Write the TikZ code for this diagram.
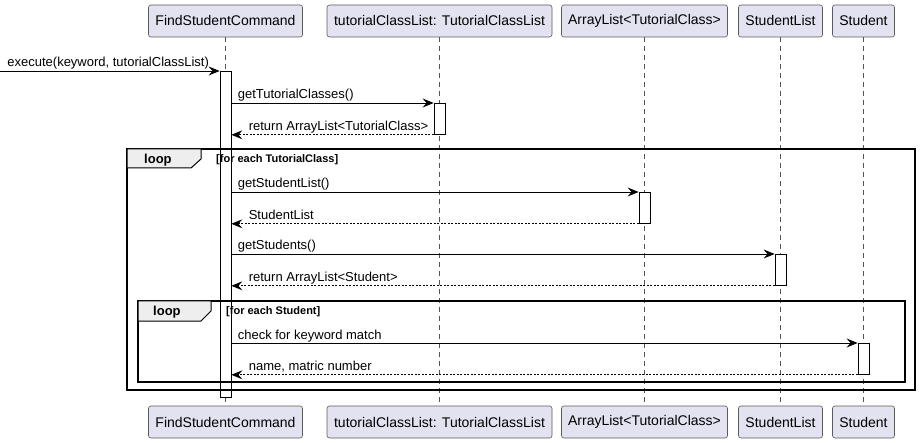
\documentclass[tikz,border=0pt]{standalone}
\usepackage{fontspec}
\setmainfont{Liberation Sans}
\usetikzlibrary{arrows.meta}
\definecolor{partfill}{HTML}{E2E2F0}
\definecolor{partdraw}{HTML}{5A5A5A}
\definecolor{tabfill}{HTML}{EEEEEE}
\definecolor{lifecol}{HTML}{555555}
\begin{document}
\begin{tikzpicture}[x=1pt,y=-1pt,
  part/.style={draw=partdraw, line width=0.6pt, fill=partfill, rounded corners=2.5pt,
    minimum height=32pt, inner xsep=0pt, inner ysep=0pt, font=\fontsize{14}{16}\selectfont},
  actbox/.style={draw=black, line width=0.8pt, fill=white, minimum width=11pt, inner sep=0pt, anchor=north},
  lifeline/.style={draw=lifecol, line width=0.5pt, dash pattern=on 5pt off 4pt},
  call/.style={draw=black, line width=0.8pt, -{Stealth[length=11pt, width=9pt, inset=4pt]}},
  ret/.style={draw=black, line width=0.8pt, dash pattern=on 2pt off 1.5pt, -{Stealth[length=11pt, width=9pt, inset=4pt]}},
  msg/.style={font=\fontsize{13}{15}\selectfont, inner sep=0pt, anchor=base west},
  frame/.style={draw=black, line width=1.5pt},
  tab/.style={draw=black, line width=1pt, fill=tabfill},
  guard/.style={font=\fontsize{11}{13}\selectfont\bfseries, inner sep=0pt, anchor=base west},
  looplbl/.style={font=\fontsize{13}{15}\selectfont\bfseries, inner sep=0pt, anchor=base west}
]
\useasboundingbox (0,0) rectangle (920,443);

% participants top
\node[part, minimum width=154pt] (p1t) at (225.5,21) {FindStudentCommand};
\node[part, minimum width=225pt] (p2t) at (439.5,21) {tutorialClassList: TutorialClassList};
\node[part, minimum width=166pt] (p3t) at (644.5,21) {ArrayList<TutorialClass>};
\node[part, minimum width=84pt]  (p4t) at (780.5,21) {StudentList};
\node[part, minimum width=62pt]  (p5t) at (863.5,21) {Student};
% participants bottom
\node[part, minimum width=154pt] (p1b) at (225.5,422) {FindStudentCommand};
\node[part, minimum width=225pt] (p2b) at (439.5,422) {tutorialClassList: TutorialClassList};
\node[part, minimum width=166pt] (p3b) at (644.5,422) {ArrayList<TutorialClass>};
\node[part, minimum width=84pt]  (p4b) at (780.5,422) {StudentList};
\node[part, minimum width=62pt]  (p5b) at (863.5,422) {Student};

% lifelines
\draw[lifeline] (p1t.south) -- (p1b.north);
\draw[lifeline] (p2t.south) -- (p2b.north);
\draw[lifeline] (p3t.south) -- (p3b.north);
\draw[lifeline] (p4t.south) -- (p4b.north);
\draw[lifeline] (p5t.south) -- (p5b.north);

% activations
\node[actbox, minimum height=325.5pt] (a0) at (225.5,71) {};
\node[actbox, minimum height=31pt] (a1) at (439.5,103) {};
\node[actbox, minimum height=31pt] (a2) at (644.5,192) {};
\node[actbox, minimum height=31pt] (a3) at (780.5,254) {};
\node[actbox, minimum height=31pt] (a4) at (863.5,343) {};

% loop frames
\draw[frame] (127,149) rectangle (915,390);
\draw[tab] (127,149) -- (201,149) -- (201,159) -- (191,168) -- (127,168) -- cycle;
\node[looplbl] (l1) at (144,164) {loop};
\node[guard] (g1) at (216,163) {[for each TutorialClass]};

\draw[frame] (138,301) rectangle (905,382);
\draw[tab] (138,301) -- (211,301) -- (211,311) -- (201,321) -- (138,321) -- cycle;
\node[looplbl] (l2) at (153,316) {loop};
\node[guard] (g2) at (226,315) {[for each Student]};

% messages
\coordinate (ext) at (0,71);
\draw[call] (ext) -- (a0.north west)
  node[msg, pos=0, xshift=7pt, yshift=4pt] {execute(keyword, tutorialClassList)};
\draw[call] (a0.east |- a1.north) -- (a1.north west)
  node[msg, pos=0, xshift=6pt, yshift=4pt] {getTutorialClasses()};
\draw[ret] (a1.south west) -- (a0.east |- a1.south)
  node[msg, pos=1, xshift=17pt, yshift=4pt] {return ArrayList<TutorialClass>};
\draw[call] (a0.east |- a2.north) -- (a2.north west)
  node[msg, pos=0, xshift=6pt, yshift=4pt] {getStudentList()};
\draw[ret] (a2.south west) -- (a0.east |- a2.south)
  node[msg, pos=1, xshift=17pt, yshift=4pt] {StudentList};
\draw[call] (a0.east |- a3.north) -- (a3.north west)
  node[msg, pos=0, xshift=6pt, yshift=4pt] {getStudents()};
\draw[ret] (a3.south west) -- (a0.east |- a3.south)
  node[msg, pos=1, xshift=17pt, yshift=4pt] {return ArrayList<Student>};
\draw[call] (a0.east |- a4.north) -- (a4.north west)
  node[msg, pos=0, xshift=6pt, yshift=4pt] {check for keyword match};
\draw[ret] (a4.south west) -- (a0.east |- a4.south)
  node[msg, pos=1, xshift=17pt, yshift=4pt] {name, matric number};
\end{tikzpicture}
\end{document}
